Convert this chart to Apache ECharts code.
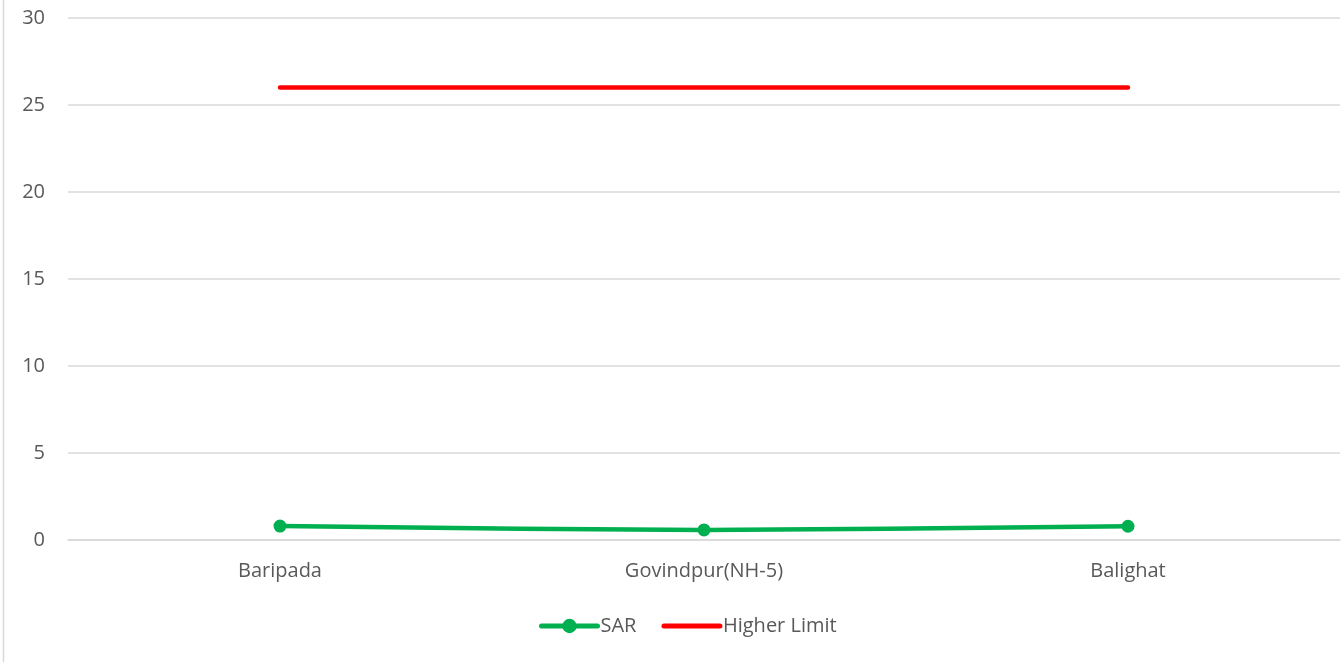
<!DOCTYPE html>
<html>
<head>
<meta charset="utf-8">
<script src="https://cdn.jsdelivr.net/npm/echarts@6/dist/echarts.min.js"></script>
<style>
html,body{margin:0;padding:0;background:#fff;}
#chart{width:1343px;height:662px;}
</style>
</head>
<body>
<div id="chart"></div>
<script>
const categories = ['Baripada', 'Govindpur(NH-5)', 'Balighat'];
const sarValues = [0.8, 0.58, 0.79];
const higherLimit = [26, 26, 26];
const yTicks = { min: 0, max: 30, interval: 5 };

const FONT = '"Open Sans", "Liberation Sans", sans-serif';
const TXT = '#595959';

const chart = echarts.init(document.getElementById('chart'));
chart.setOption({
  animation: false,
  backgroundColor: '#fff',
  graphic: [{
    type: 'line',
    shape: { x1: 3.5, y1: 0, x2: 3.5, y2: 662 },
    style: { stroke: '#d9d9d9', lineWidth: 1.5 }
  }],
  grid: { left: 68, right: 3, top: 18, bottom: 122, containLabel: false },
  legend: {
    top: 611,
    left: 534,
    itemWidth: 56,
    itemHeight: 18,
    itemGap: 25,
    textStyle: { color: TXT, fontSize: 20, fontFamily: FONT, padding: [0, 0, 0, -2] },
    data: [
      { name: 'SAR', lineStyle: { width: 5 } },
      { name: 'Higher Limit', itemStyle: { opacity: 0 }, lineStyle: { width: 5 } }
    ]
  },
  xAxis: {
    type: 'category',
    data: categories,
    boundaryGap: true,
    axisLine: { show: true, lineStyle: { color: '#d9d9d9', width: 1.5 } },
    axisTick: { show: false },
    axisLabel: { color: TXT, fontSize: 20, fontFamily: FONT, margin: 21 }
  },
  yAxis: {
    type: 'value',
    min: yTicks.min, max: yTicks.max, interval: yTicks.interval,
    axisLine: { show: false },
    axisTick: { show: false },
    axisLabel: { color: TXT, fontSize: 20, fontFamily: FONT, margin: 23 },
    splitLine: { lineStyle: { color: '#d9d9d9', width: 1.5 } }
  },
  series: [
    {
      name: 'SAR',
      type: 'line',
      data: sarValues,
      smooth: 0.3,
      symbol: 'circle',
      symbolSize: 13,
      lineStyle: { color: '#00b050', width: 4.5, cap: 'round' },
      itemStyle: { color: '#00b050' }
    },
    {
      name: 'Higher Limit',
      type: 'line',
      data: higherLimit,
      symbol: 'none',
      lineStyle: { color: '#ff0000', width: 4.5, cap: 'round' },
      itemStyle: { color: '#ff0000' }
    }
  ]
});
</script>
</body>
</html>
